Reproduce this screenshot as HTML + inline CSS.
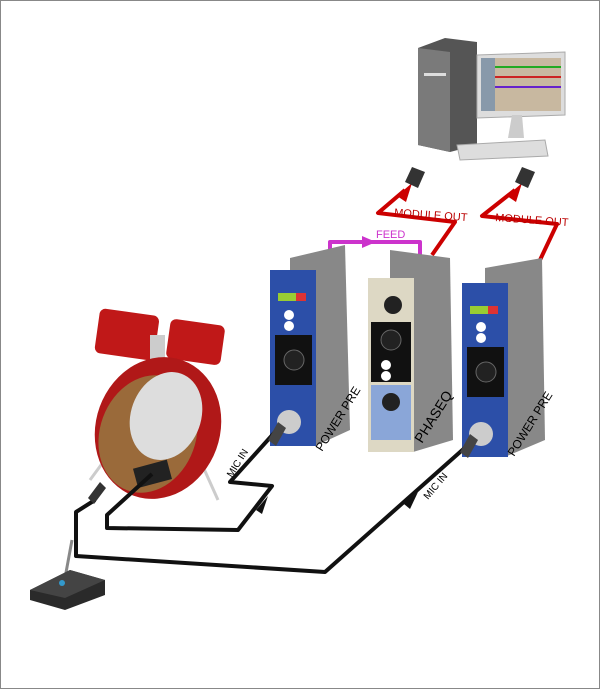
<!DOCTYPE html>
<html><head><meta charset="utf-8"><style>
html,body{margin:0;padding:0;background:#fff}
svg{display:block}
text{font-family:"Liberation Sans",sans-serif}
</style></head><body>
<svg width="600" height="689" viewBox="0 0 600 689" xmlns="http://www.w3.org/2000/svg">
<rect x="0.5" y="0.5" width="599" height="688" fill="#fff" stroke="#888"/>
<!-- computer -->
<path d="M418,48 L445,38 L477,42 L477,145 L450,152 L418,145 z" fill="#555"/>
<path d="M418,48 L450,52 L450,152 L418,145 z" fill="#7a7a7a"/>
<rect x="424" y="73" width="22" height="3" fill="#ddd"/>
<path d="M477,55 L565,52 L565,115 L477,118 z" fill="#ddd" stroke="#aaa"/>
<rect x="481" y="58" width="80" height="53" fill="#c8b8a0"/>
<rect x="481" y="66" width="80" height="2" fill="#2a2"/>
<rect x="481" y="76" width="80" height="2" fill="#c22"/>
<rect x="481" y="86" width="80" height="2" fill="#62c"/>
<rect x="481" y="58" width="14" height="53" fill="#8899aa"/>
<path d="M512,115 L522,115 L524,138 L508,138 z" fill="#ccc"/>
<path d="M457,145 L545,140 L548,156 L460,160 z" fill="#ddd" stroke="#aaa"/>
<!-- red cables -->
<g fill="none" stroke="#c00" stroke-width="4" stroke-linejoin="round">
<path d="M405,190 L378,213 L455,222 L432,255"/>
<path d="M515,190 L482,216 L557,224 L540,260"/>
</g>
<path d="M397,196 L412,183 L406,202 z" fill="#c00"/>
<path d="M507,196 L522,183 L516,202 z" fill="#c00"/>
<path d="M405,182 L412,167 L425,172 L418,188 z" fill="#333"/>
<path d="M515,182 L522,167 L535,172 L528,188 z" fill="#333"/>
<text x="394" y="216" font-size="11" fill="#b00" transform="rotate(4 394 216)">MODULE OUT</text>
<text x="495" y="221" font-size="11" fill="#b00" transform="rotate(4 495 221)">MODULE OUT</text>
<!-- feed -->
<path d="M330,260 L330,242 L420,242 L420,262" fill="none" stroke="#c3c" stroke-width="4" stroke-linejoin="round"/>
<path d="M362,236 L376,242 L362,248 z" fill="#c3c"/>
<text x="376" y="238" font-size="11" fill="#c3c">FEED</text>
<!-- modules -->
<path d="M290,258 L345,245 L350,430 L315,446 L290,440 z" fill="#888"/>
<rect x="270" y="270" width="46" height="176" fill="#2c4fa8"/>
<rect x="278" y="293" width="28" height="8" fill="#d33"/><rect x="278" y="293" width="18" height="8" fill="#9c3"/>
<rect x="275" y="335" width="37" height="50" fill="#111"/>
<circle cx="294" cy="360" r="10" fill="#222" stroke="#666"/>
<circle cx="289" cy="315" r="5" fill="#fff"/><circle cx="289" cy="326" r="5" fill="#fff"/>
<circle cx="289" cy="422" r="12" fill="#ccc"/>
<path d="M390,250 L450,258 L453,440 L413,452 L390,445 z" fill="#888"/>
<rect x="368" y="278" width="46" height="174" fill="#ddd8c4"/>
<circle cx="393" cy="305" r="9" fill="#222"/>
<rect x="371" y="322" width="40" height="60" fill="#111"/>
<circle cx="391" cy="340" r="10" fill="#222" stroke="#666"/>
<circle cx="386" cy="365" r="5" fill="#fff"/><circle cx="386" cy="376" r="5" fill="#fff"/>
<rect x="371" y="385" width="40" height="55" fill="#8aa6d8"/>
<circle cx="391" cy="402" r="9" fill="#222"/>
<path d="M485,268 L542,258 L545,440 L507,456 L485,450 z" fill="#888"/>
<rect x="462" y="283" width="46" height="174" fill="#2c4fa8"/>
<rect x="470" y="306" width="28" height="8" fill="#d33"/><rect x="470" y="306" width="18" height="8" fill="#9c3"/>
<rect x="467" y="347" width="37" height="50" fill="#111"/>
<circle cx="486" cy="372" r="10" fill="#222" stroke="#666"/>
<circle cx="481" cy="327" r="5" fill="#fff"/><circle cx="481" cy="338" r="5" fill="#fff"/>
<circle cx="481" cy="434" r="12" fill="#ccc"/>
<text font-size="12" fill="#000" transform="translate(322,452) rotate(-58)">POWER PRE</text>
<text font-size="14" fill="#000" transform="translate(422,444) rotate(-58)">PHASEQ</text>
<text font-size="12" fill="#000" transform="translate(514,457) rotate(-58)">POWER PRE</text>
<!-- drums -->
<line x1="112" y1="450" x2="90" y2="480" stroke="#ccc" stroke-width="3"/>
<line x1="200" y1="460" x2="218" y2="500" stroke="#ccc" stroke-width="3"/>
<rect x="97" y="312" width="60" height="45" rx="6" fill="#c01818" transform="rotate(8 127 334)"/>
<rect x="168" y="322" width="55" height="40" rx="6" fill="#c01818" transform="rotate(8 195 342)"/>
<rect x="150" y="335" width="15" height="35" fill="#ccc"/>
<ellipse cx="158" cy="428" rx="62" ry="72" fill="#b01818" transform="rotate(20 158 428)"/>
<ellipse cx="148" cy="434" rx="48" ry="60" fill="#9a6a3a" transform="rotate(20 148 434)"/>
<ellipse cx="166" cy="416" rx="35" ry="45" fill="#ddd" transform="rotate(20 166 416)"/>
<rect x="135" y="464" width="35" height="20" fill="#222" transform="rotate(-15 152 474)"/>
<!-- black cables -->
<g fill="none" stroke="#111" stroke-width="4" stroke-linejoin="round">
<path d="M152,474 L107,515 L107,528 L238,530 L272,486 L230,482 L275,432"/>
<path d="M95,500 L76,512 L76,556 L325,572 L468,445"/>
</g>
<path d="M256,510 L268,496 L262,514 z" fill="#111"/>
<path d="M404,504 L418,492 L410,509 z" fill="#111"/>
<path d="M268,440 L278,422 L286,428 L276,446 z" fill="#444"/>
<path d="M460,452 L470,434 L478,440 L468,458 z" fill="#444"/>
<text font-size="10" fill="#000" transform="translate(232,478) rotate(-58)">MIC IN</text>
<text font-size="10" fill="#000" transform="translate(428,500) rotate(-50)">MIC IN</text>
<!-- mic stand -->
<line x1="72" y1="540" x2="65" y2="578" stroke="#888" stroke-width="3"/>
<path d="M88,498 L100,482 L106,488 L94,504 z" fill="#333"/>
<path d="M30,590 L70,570 L105,580 L105,595 L65,610 L30,600 z" fill="#2a2a2a"/>
<path d="M30,590 L70,570 L105,580 L65,598 z" fill="#444"/>
<circle cx="62" cy="583" r="3" fill="#39c"/>
</svg>
</body></html>
